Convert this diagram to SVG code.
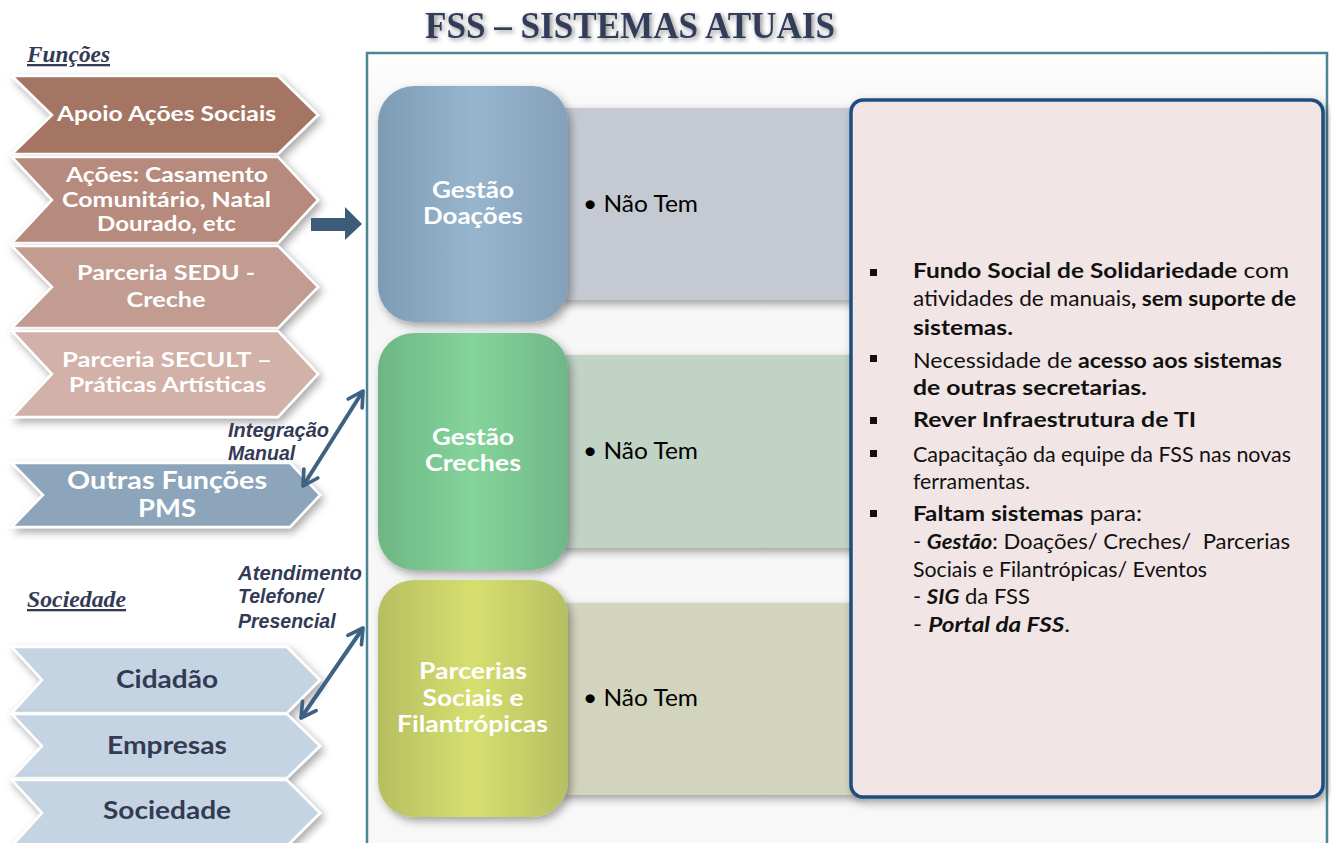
<svg xmlns="http://www.w3.org/2000/svg" width="1331" height="843" viewBox="0 0 1331 843">
<defs>
<filter id="sh" x="-20%" y="-20%" width="140%" height="140%"><feDropShadow dx="3" dy="4" stdDeviation="4" flood-color="#000" flood-opacity="0.35"/></filter>
<filter id="tsh" x="-10%" y="-30%" width="120%" height="160%"><feDropShadow dx="2" dy="2" stdDeviation="2.5" flood-color="#000" flood-opacity="0.45"/></filter>
<linearGradient id="gBlue" x1="0" y1="0" x2="1" y2="0"><stop offset="0" stop-color="#7e9bb4"/><stop offset="0.5" stop-color="#98b5ce"/><stop offset="1" stop-color="#85a1ba"/></linearGradient>
<linearGradient id="gGreen" x1="0" y1="0" x2="1" y2="0"><stop offset="0" stop-color="#6db684"/><stop offset="0.5" stop-color="#85d49b"/><stop offset="1" stop-color="#70b788"/></linearGradient>
<linearGradient id="gYel" x1="0" y1="0" x2="1" y2="0"><stop offset="0" stop-color="#b6be62"/><stop offset="0.5" stop-color="#d6df6e"/><stop offset="1" stop-color="#b6bf62"/></linearGradient>
<linearGradient id="gFrame" x1="0" y1="0" x2="0" y2="1"><stop offset="0" stop-color="#ffffff"/><stop offset="0.08" stop-color="#f6f6f6"/><stop offset="1" stop-color="#f8f8f8"/></linearGradient>
<marker id="vh" viewBox="0 0 12 12" refX="10" refY="6" markerWidth="5.5" markerHeight="5.5" orient="auto-start-reverse" markerUnits="strokeWidth"><path d="M2,1.5 L10,6 L2,10.5" fill="none" stroke="#3d6283" stroke-width="2" stroke-linecap="round" stroke-linejoin="round"/></marker>
<style>
.chev{stroke:#ffffff;stroke-width:2.5;filter:url(#sh)}
.ct{font-family:Lato,"Open Sans",sans-serif;font-weight:bold;fill:#ffffff;text-anchor:middle}
.cd{font-family:Lato,"Open Sans",sans-serif;font-weight:bold;fill:#333a55;text-anchor:middle;font-size:25px}
.lbl{font-family:"Liberation Sans",Arial,sans-serif;font-style:italic;font-weight:bold;fill:#333a55;font-size:19.5px}
.sec{font-family:"Liberation Serif","Times New Roman",serif;font-style:italic;font-weight:bold;fill:#333a55;font-size:23px;text-decoration:underline}
.sq{filter:url(#sh)}
.sqt{font-family:Lato,"Open Sans",sans-serif;font-weight:bold;fill:#ffffff;text-anchor:middle;font-size:22px}
.nt{font-family:Lato,"Open Sans",sans-serif;fill:#000000;font-size:24px}
.bx{font-family:Lato,"Open Sans",sans-serif;fill:#111111;font-size:21px}
.b{font-weight:bold}
.bi{font-weight:bold;font-style:italic}
.conn{stroke:#3d6283;stroke-width:4;fill:none}
</style>
</defs>
<rect x="0" y="0" width="1331" height="843" fill="#ffffff"/>

<g id="title">
<text x="425" y="38" font-family="'Liberation Serif','Times New Roman',serif" font-weight="bold" font-size="38" fill="#333c5a" textLength="410" lengthAdjust="spacingAndGlyphs" filter="url(#tsh)">FSS – SISTEMAS ATUAIS</text>
</g>

<g id="frame">
<rect x="367" y="53" width="960" height="800" fill="url(#gFrame)" stroke="#4e8594" stroke-width="2.5"/>
</g>

<g id="label-funcoes"><text class="sec" x="27" y="62" textLength="83" lengthAdjust="spacingAndGlyphs">Funções</text></g>

<g id="chev-apoio">
<polygon class="chev" fill="#a47564" points="12,76 278,76 318,115 278,154 12,154 52,115"/>
<text class="ct" x="166.5" y="121" font-size="21" textLength="219" lengthAdjust="spacingAndGlyphs">Apoio Ações Sociais</text>
</g>
<g id="chev-acoes">
<polygon class="chev" fill="#b68a7c" points="12,157 278,157 318,200 278,243 12,243 52,200"/>
<text class="ct" x="167" y="182" font-size="21" textLength="202" lengthAdjust="spacingAndGlyphs">Ações: Casamento</text>
<text class="ct" x="166.5" y="207" font-size="21" textLength="209" lengthAdjust="spacingAndGlyphs">Comunitário, Natal</text>
<text class="ct" x="166.5" y="231" font-size="21" textLength="139" lengthAdjust="spacingAndGlyphs">Dourado, etc</text>
</g>
<g id="chev-sedu">
<polygon class="chev" fill="#c29c91" points="12,246 278,246 318,287 278,328 12,328 52,287"/>
<text class="ct" x="166" y="280" font-size="20" textLength="178" lengthAdjust="spacingAndGlyphs">Parceria SEDU -</text>
<text class="ct" x="166" y="307" font-size="20" textLength="79" lengthAdjust="spacingAndGlyphs">Creche</text>
</g>
<g id="chev-secult">
<polygon class="chev" fill="#d2b1a8" points="12,331 278,331 318,374 278,417 12,417 52,374"/>
<text class="ct" x="167" y="367" font-size="20" textLength="210" lengthAdjust="spacingAndGlyphs">Parceria SECULT –</text>
<text class="ct" x="167.5" y="392" font-size="20" textLength="197" lengthAdjust="spacingAndGlyphs">Práticas Artísticas</text>
</g>

<g id="label-integracao">
<text class="lbl" x="228" y="437" textLength="101" lengthAdjust="spacingAndGlyphs">Integração</text>
<text class="lbl" x="228" y="460">Manual</text>
</g>

<g id="chev-outras">
<polygon class="chev" fill="#8ca5bb" points="12,463 290,463 320,495 290,527 12,527 43,495"/>
<text class="ct" x="167" y="489" font-size="24" textLength="200" lengthAdjust="spacingAndGlyphs">Outras Funções</text>
<text class="ct" x="167" y="517" font-size="24" textLength="58" lengthAdjust="spacingAndGlyphs">PMS</text>
</g>

<g id="label-sociedade"><text class="sec" x="27" y="607" textLength="99" lengthAdjust="spacingAndGlyphs">Sociedade</text></g>

<g id="label-atendimento">
<text class="lbl" x="238" y="580" textLength="124" lengthAdjust="spacingAndGlyphs">Atendimento</text>
<text class="lbl" x="238" y="603">Telefone/</text>
<text class="lbl" x="238" y="628">Presencial</text>
</g>

<g id="chev-cidadao">
<polygon class="chev" fill="#c5d4e2" points="12,647 287,647 320,680 287,713 12,713 42,680"/>
<text class="cd" x="167" y="688" textLength="102" lengthAdjust="spacingAndGlyphs">Cidadão</text>
</g>
<g id="chev-empresas">
<polygon class="chev" fill="#c5d4e2" points="12,714 287,714 320,746 287,778 12,778 42,746"/>
<text class="cd" x="167" y="754" textLength="120" lengthAdjust="spacingAndGlyphs">Empresas</text>
</g>
<g id="chev-sociedade">
<polygon class="chev" fill="#c5d4e2" points="12,780 287,780 320,813 287,846 12,846 42,813"/>
<text class="cd" x="167" y="819" textLength="128" lengthAdjust="spacingAndGlyphs">Sociedade</text>
</g>

<g id="connectors">
<polygon fill="#3d5c7a" points="311,218 345,218 345,207 362,224 345,240 345,231 311,231"/>
<line class="conn" x1="303" y1="486" x2="363" y2="391" marker-start="url(#vh)" marker-end="url(#vh)"/>
<line class="conn" x1="301" y1="718" x2="363" y2="628" marker-start="url(#vh)" marker-end="url(#vh)"/>
</g>

<g id="gestao-doacoes">
<rect x="560" y="108" width="300" height="192" fill="#c4c9d2" filter="url(#sh)"/>
<rect class="sq" x="378" y="86" width="190" height="236" rx="36" fill="url(#gBlue)"/>
<text class="sqt" x="473" y="198" textLength="82" lengthAdjust="spacingAndGlyphs">Gestão</text>
<text class="sqt" x="473" y="224" textLength="100" lengthAdjust="spacingAndGlyphs">Doações</text>
<text class="nt" x="583" y="212" textLength="115" lengthAdjust="spacingAndGlyphs">• Não Tem</text>
</g>

<g id="gestao-creches">
<rect x="560" y="355" width="300" height="193" fill="#c1d3c5" filter="url(#sh)"/>
<rect class="sq" x="378" y="333" width="190" height="237" rx="36" fill="url(#gGreen)"/>
<text class="sqt" x="473" y="445" textLength="82" lengthAdjust="spacingAndGlyphs">Gestão</text>
<text class="sqt" x="473" y="471" textLength="96" lengthAdjust="spacingAndGlyphs">Creches</text>
<text class="nt" x="583" y="459" textLength="115" lengthAdjust="spacingAndGlyphs">• Não Tem</text>
</g>

<g id="parcerias">
<rect x="560" y="603" width="300" height="192" fill="#d2d4bd" filter="url(#sh)"/>
<rect class="sq" x="378" y="580" width="190" height="237" rx="36" fill="url(#gYel)"/>
<text class="sqt" x="473" y="679" textLength="108" lengthAdjust="spacingAndGlyphs">Parcerias</text>
<text class="sqt" x="473" y="706" textLength="101" lengthAdjust="spacingAndGlyphs">Sociais e</text>
<text class="sqt" x="472.5" y="732" textLength="151" lengthAdjust="spacingAndGlyphs">Filantrópicas</text>
<text class="nt" x="583" y="706" textLength="115" lengthAdjust="spacingAndGlyphs">• Não Tem</text>
</g>

<g id="notes-box">
<rect x="851" y="100" width="472" height="697" rx="12" fill="#f1e6e5" stroke="#1f4e80" stroke-width="3.5" filter="url(#sh)"/>
<rect x="870" y="269" width="7" height="7" fill="#111"/>
<rect x="870" y="355" width="7" height="7" fill="#111"/>
<rect x="870" y="417" width="7" height="7" fill="#111"/>
<rect x="870" y="450" width="7" height="7" fill="#111"/>
<rect x="870" y="510" width="7" height="7" fill="#111"/>
<text class="bx" x="913" y="278" textLength="376" lengthAdjust="spacingAndGlyphs"><tspan class="b">Fundo Social de Solidariedade</tspan> com</text>
<text class="bx" x="913" y="306" textLength="383" lengthAdjust="spacingAndGlyphs">atividades de manuais<tspan class="b">, sem suporte de</tspan></text>
<text class="bx b" x="913" y="335" textLength="100" lengthAdjust="spacingAndGlyphs">sistemas.</text>
<text class="bx" x="913" y="368" textLength="369" lengthAdjust="spacingAndGlyphs">Necessidade de <tspan class="b">acesso aos sistemas</tspan></text>
<text class="bx b" x="913" y="395" textLength="234" lengthAdjust="spacingAndGlyphs">de outras secretarias.</text>
<text class="bx b" x="913" y="427" textLength="283" lengthAdjust="spacingAndGlyphs">Rever Infraestrutura de TI</text>
<text class="bx" x="913" y="462" textLength="378" lengthAdjust="spacingAndGlyphs">Capacitação da equipe da FSS nas novas</text>
<text class="bx" x="913" y="489" textLength="117" lengthAdjust="spacingAndGlyphs">ferramentas.</text>
<text class="bx" x="913" y="521" textLength="229" lengthAdjust="spacingAndGlyphs"><tspan class="b">Faltam sistemas</tspan> para:</text>
<text class="bx" x="913" y="549" xml:space="preserve" textLength="377" lengthAdjust="spacingAndGlyphs">- <tspan class="bi">Gestão</tspan>: Doações/ Creches/  Parcerias</text>
<text class="bx" x="913" y="577" textLength="294" lengthAdjust="spacingAndGlyphs">Sociais e Filantrópicas/ Eventos</text>
<text class="bx" x="913" y="604" textLength="117" lengthAdjust="spacingAndGlyphs">- <tspan class="bi">SIG</tspan> da FSS</text>
<text class="bx" x="913" y="632" textLength="157" lengthAdjust="spacingAndGlyphs">- <tspan class="bi">Portal da FSS</tspan>.</text>
</g>
</svg>
